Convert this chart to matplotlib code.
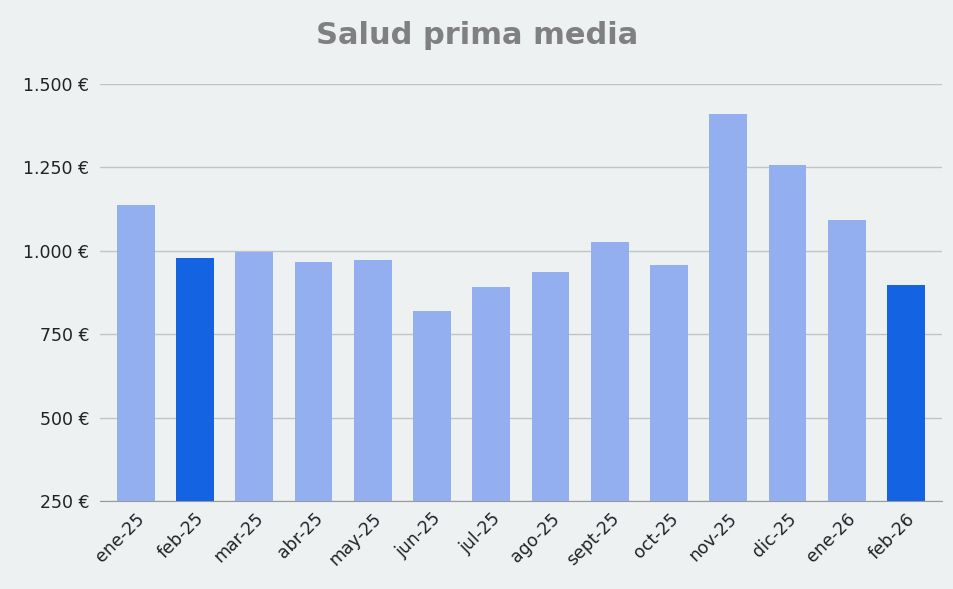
import matplotlib
matplotlib.use("Agg")
import matplotlib.pyplot as plt
from matplotlib.ticker import FuncFormatter

categories = ["ene-25","feb-25","mar-25","abr-25","may-25","jun-25","jul-25","ago-25","sept-25","oct-25","nov-25","dic-25","ene-26","feb-26"]
values = [1136, 977, 997, 967, 971, 818, 892, 937, 1027, 957, 1408, 1255, 1091, 898]
highlight = ["feb-25", "feb-26"]

bg = "#edf1f2"
fig = plt.figure(figsize=(9.54, 5.89), dpi=100, facecolor=bg)
ax = fig.add_axes([0.105, 0.149, 0.882, 0.709], facecolor=bg)
colors = ["#1463e2" if c in highlight else "#93aff0" for c in categories]
ax.bar(range(len(categories)), values, width=0.64, color=colors, zorder=3, bottom=0)
ax.set_ylim(250, 1500)
ax.set_xlim(-0.6, len(categories) - 0.4)
ax.set_yticks([250, 500, 750, 1000, 1250, 1500])
ax.yaxis.set_major_formatter(FuncFormatter(lambda v, p: f"{int(v):,}".replace(",", ".") + " €"))
ax.grid(axis="y", color="#c0c4c6", linewidth=1, zorder=0)
ax.set_xticks(range(len(categories)))
ax.set_xticklabels(categories, rotation=45, ha="right", rotation_mode="anchor", fontsize=12.5, color="#222222")
ax.tick_params(axis="y", labelsize=12.5, colors="#222222", length=0, pad=8)
ax.tick_params(axis="x", length=0, pad=6)
for s in ["top", "right", "left"]:
    ax.spines[s].set_visible(False)
ax.spines["bottom"].set_color("#999999")
fig.text(0.5, 0.94, "Salud prima media", ha="center", va="center", fontsize=22, fontweight="bold", color="#808080")
fig.savefig("out.png", dpi=100, facecolor=bg)
